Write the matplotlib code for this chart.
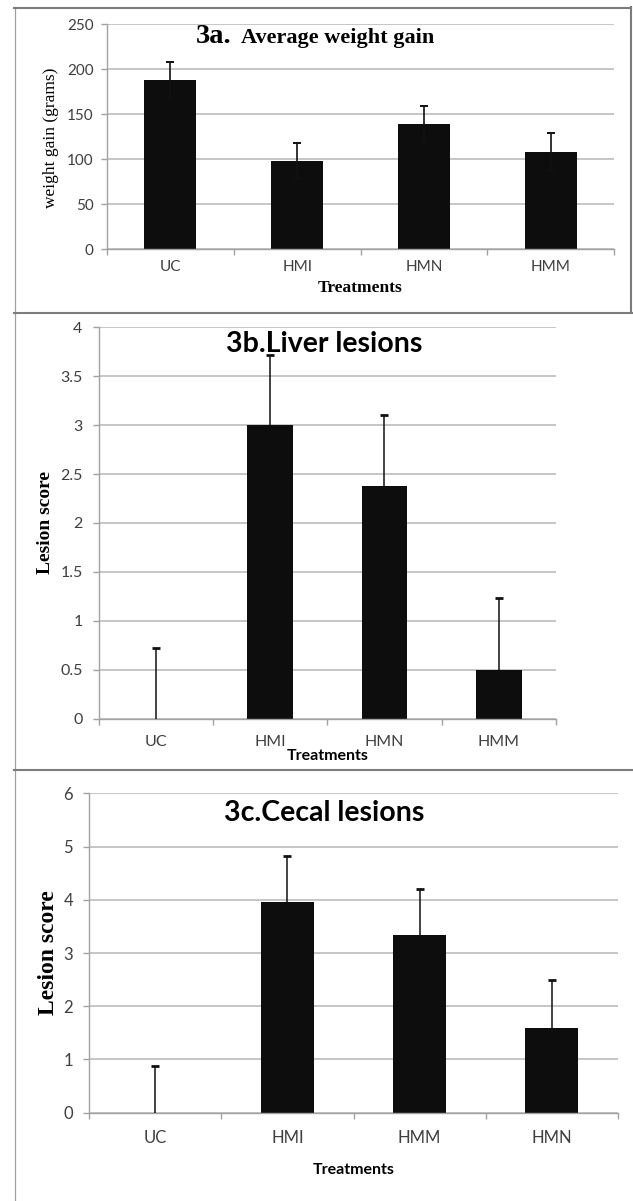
import matplotlib
matplotlib.use('Agg')
import matplotlib.pyplot as plt
from matplotlib.lines import Line2D
import numpy as np

# ---------------- data ----------------
cats_a = ['UC', 'HMI', 'HMN', 'HMM']
weight_gain = [188, 98, 139, 108]
weight_err = [20, 20, 20, 21]

cats_b = ['UC', 'HMI', 'HMN', 'HMM']
liver = [0, 3.0, 2.38, 0.5]
liver_err = [0.72, 0.72, 0.72, 0.73]

cats_c = ['UC', 'HMI', 'HMM', 'HMN']
cecal = [0, 3.95, 3.33, 1.6]
cecal_err = [0.88, 0.87, 0.87, 0.89]

yticks_a = [0, 50, 100, 150, 200, 250]
ylabels_a = ['0', '50', '100', '150', '200', '250']
yticks_b = [0, 0.5, 1, 1.5, 2, 2.5, 3, 3.5, 4]
ylabels_b = ['0', '0.5', '1', '1.5', '2', '2.5', '3', '3.5', '4']
yticks_c = [0, 1, 2, 3, 4, 5, 6]
ylabels_c = ['0', '1', '2', '3', '4', '5', '6']

# ---------------- style ----------------
W, H = 633, 1201
SANS = ['Lato', 'DejaVu Sans']
SERIF = ['Liberation Serif', 'DejaVu Serif']
BAR = '#0d0d0d'
GRID = '#bcbcbc'
AXC = '#a2a2a2'
TICKC = '#3f3f3f'
BORDER = '#7c7c7c'

fig = plt.figure(figsize=(W / 100, H / 100), dpi=100)
fig.patch.set_facecolor('white')


def fx(px):
    return px / W


def fy(py):
    return 1 - py / H


def axes_px(l, t, r, b):
    return fig.add_axes([l / W, 1 - b / H, (r - l) / W, (b - t) / H])


def style(ax, cats, ymax, yticks, ylabels, tick_fs, xpad, ypad):
    ax.set_xlim(-0.5, 3.5)
    ax.set_ylim(0, ymax)
    for s in ['top', 'right']:
        ax.spines[s].set_visible(False)
    for s in ['left', 'bottom']:
        ax.spines[s].set_color(AXC)
        ax.spines[s].set_linewidth(1.0)
    ax.set_axisbelow(True)
    ax.yaxis.grid(True, color=GRID, linewidth=1.2)
    ax.set_yticks(yticks, ylabels)
    ax.set_xticks(range(len(cats)), cats)
    ax.set_xticks(np.arange(-0.5, len(cats), 1.0), minor=True)
    ax.tick_params(axis='x', which='major', length=0, pad=xpad,
                   labelsize=tick_fs, labelcolor=TICKC)
    ax.tick_params(axis='x', which='minor', length=4.5, width=1.0, color=AXC)
    ax.tick_params(axis='y', length=4.5, width=1.0, color=AXC, pad=ypad,
                   labelsize=tick_fs, labelcolor=TICKC)
    for lab in ax.get_xticklabels() + ax.get_yticklabels():
        lab.set_family(SANS)


# ---------------- panel a ----------------
axa = axes_px(107, 24.3, 614, 249.3)
xa = np.arange(len(cats_a))
axa.bar(xa, weight_gain, width=0.41, color=BAR, zorder=2)
axa.errorbar(xa, weight_gain, yerr=weight_err, fmt='none', ecolor='#111111',
             elinewidth=1.2, capsize=2.8, capthick=1.4, zorder=3)
style(axa, cats_a, 250, yticks_a, ylabels_a, 11, 7.5, 5)

fig.text(fx(196), fy(43), '3a.', family=SERIF, weight='bold', fontsize=20.5,
         ha='left', va='baseline')
fig.text(fx(241), fy(43), 'Average weight gain', family=SERIF, weight='bold',
         fontsize=16, ha='left', va='baseline')
fig.text(fx(51), fy(138), 'weight gain (grams)', family=SERIF, fontsize=12.5,
         rotation=90, ha='center', va='center')
fig.text(fx(360), fy(288), 'Treatments', family=SERIF, weight='bold',
         fontsize=12.5, ha='center', va='center')

# ---------------- panel b ----------------
axb = axes_px(98.5, 327.3, 556, 718.7)
xb = np.arange(len(cats_b))
axb.bar(xb, liver, width=0.4, color=BAR, zorder=2)
axb.errorbar(xb, liver, yerr=[np.zeros(len(liver)), liver_err], fmt='none',
             ecolor='#111111', elinewidth=1.1, capsize=0, zorder=3)
axb.plot(xb, np.add(liver, liver_err), ls='none', marker='_', ms=5.5, mew=2.0,
         color='#111111', zorder=3)
style(axb, cats_b, 4, yticks_b, ylabels_b, 11.5, 12, 7)

fig.text(fx(324), fy(352), '3b.Liver lesions', family=SANS, weight='bold',
         fontsize=20.5, ha='center', va='baseline')
fig.text(fx(45), fy(523), 'Lesion score', family=SERIF, weight='bold',
         fontsize=14, rotation=90, ha='center', va='center')
fig.text(fx(328), fy(756), 'Treatments', family=SANS, weight='bold',
         fontsize=11.5, ha='center', va='center')

# ---------------- panel c ----------------
axc = axes_px(89, 793.3, 618, 1112.7)
xc = np.arange(len(cats_c))
axc.bar(xc, cecal, width=0.4, color=BAR, zorder=2)
axc.errorbar(xc, cecal, yerr=[np.zeros(len(cecal)), cecal_err], fmt='none',
             ecolor='#111111', elinewidth=1.1, capsize=0, zorder=3)
axc.plot(xc, np.add(cecal, cecal_err), ls='none', marker='_', ms=5.5, mew=2.0,
         color='#111111', zorder=3)
style(axc, cats_c, 6, yticks_c, ylabels_c, 12, 12.5, 7)

fig.text(fx(324), fy(821), '3c.Cecal lesions', family=SANS, weight='bold',
         fontsize=20.5, ha='center', va='baseline')
fig.text(fx(48), fy(953), 'Lesion score', family=SERIF, weight='bold',
         fontsize=17, rotation=90, ha='center', va='center')
fig.text(fx(354), fy(1170), 'Treatments', family=SANS, weight='bold',
         fontsize=11.5, ha='center', va='center')

# ---------------- frame lines ----------------
def hline(y, x0, x1, color, lw):
    fig.add_artist(Line2D([fx(x0), fx(x1)], [fy(y), fy(y)], color=color, lw=lw))


def vline(x, y0, y1, color, lw):
    fig.add_artist(Line2D([fx(x), fx(x)], [fy(y0), fy(y1)], color=color, lw=lw))


vline(14.5, 7, 1201, '#a0a0a0', 0.9)
hline(7.5, 14, 631, BORDER, 1.5)
vline(630.5, 7, 313, BORDER, 1.5)
hline(313, 14, 633, BORDER, 1.5)
hline(770, 14, 633, BORDER, 1.5)

fig.savefig('out.png', dpi=100, facecolor='white')
